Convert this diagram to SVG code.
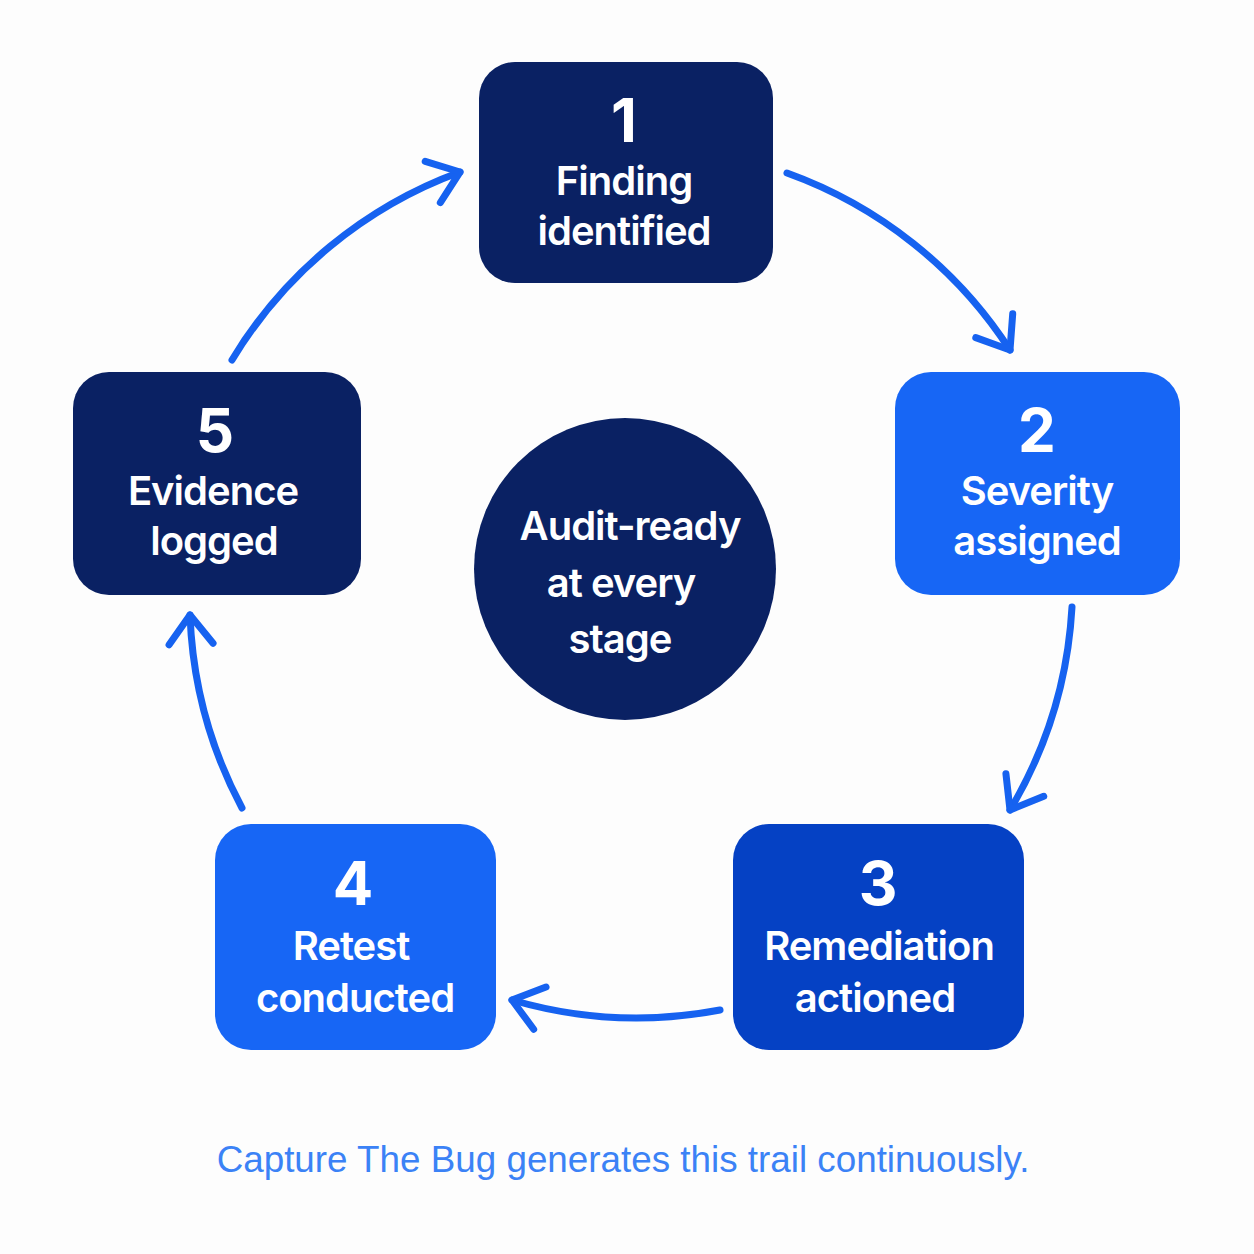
<svg xmlns="http://www.w3.org/2000/svg" width="1254" height="1254" viewBox="0 0 1254 1254">
<defs>
<style>
.navy{fill:#0A2163}
.bright{fill:#1766F5}
.mid{fill:#0541C4}
.num{font-family:Inter,"Liberation Sans",sans-serif;font-weight:700;font-size:60px;fill:#ffffff;text-anchor:middle}
.lbl{font-family:Inter,"Liberation Sans",sans-serif;font-weight:600;font-size:40px;letter-spacing:-1px;fill:#ffffff;text-anchor:middle}
.conn{fill:none;stroke:#1662F0;stroke-width:7;stroke-linecap:round;stroke-linejoin:round}
.cap{font-family:"Liberation Sans",Arial,sans-serif;font-size:36.8px;fill:#3B82F6;text-anchor:middle}
</style>
<marker id="ah" markerUnits="userSpaceOnUse" markerWidth="80" markerHeight="80" refX="0" refY="0" viewBox="-40 -40 80 80" orient="auto" overflow="visible">
<path d="M-29,-22 L0,0 L-29,22" fill="none" stroke="#1662F0" stroke-width="7" stroke-linecap="round" stroke-linejoin="round"/>
</marker>
</defs>
<rect width="1254" height="1254" fill="#FDFDFD"/>
<g id="connectors">
<path class="conn" d="M787,173 A445,445 0 0 1 1010,350" marker-end="url(#ah)"/>
<path class="conn" d="M1072,607 A445,445 0 0 1 1010,810" marker-end="url(#ah)"/>
<path class="conn" d="M720,1010 A445,445 0 0 1 512,1000" marker-end="url(#ah)"/>
<path class="conn" d="M242,808 A445,445 0 0 1 190,615" marker-end="url(#ah)"/>
<path class="conn" d="M232,360 A445,445 0 0 1 460,172" marker-end="url(#ah)"/>
</g>
<g id="node1">
<rect class="navy" x="479" y="62" width="294" height="221" rx="36"/>
<text class="num" x="624" y="142">1</text>
<text class="lbl" x="624" y="195">Finding</text>
<text class="lbl" x="624" y="245">identified</text>
</g>
<g id="node2">
<rect class="bright" x="895" y="372" width="285" height="223" rx="36"/>
<text class="num" x="1037" y="452">2</text>
<text class="lbl" x="1037" y="505">Severity</text>
<text class="lbl" x="1037" y="555">assigned</text>
</g>
<g id="node3">
<rect class="mid" x="733" y="824" width="291" height="226" rx="36"/>
<text class="num" x="878" y="905">3</text>
<text class="lbl" x="879" y="960">Remediation</text>
<text class="lbl" x="875" y="1012">actioned</text>
</g>
<g id="node4">
<rect class="bright" x="215" y="824" width="281" height="226" rx="36"/>
<text class="num" x="353" y="905">4</text>
<text class="lbl" x="351" y="960">Retest</text>
<text class="lbl" x="355" y="1012">conducted</text>
</g>
<g id="node5">
<rect class="navy" x="73" y="372" width="288" height="223" rx="36"/>
<text class="num" x="215" y="452">5</text>
<text class="lbl" x="213" y="505">Evidence</text>
<text class="lbl" x="214" y="555">logged</text>
</g>
<g id="center">
<circle class="navy" cx="625" cy="569" r="151"/>
<text class="lbl" x="630" y="540">Audit-ready</text>
<text class="lbl" x="621" y="597">at every</text>
<text class="lbl" x="620" y="653">stage</text>
</g>
<text class="cap" x="623" y="1172">Capture The Bug generates this trail continuously.</text>
</svg>
